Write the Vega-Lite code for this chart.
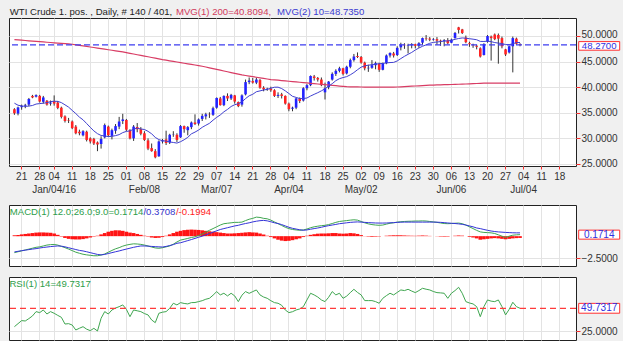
{
"$schema": "https://vega.github.io/schema/vega-lite/v6.json",
"background": "#f0f0f0",
"padding": {"left": 7, "top": 5, "right": 0, "bottom": 0},
"spacing": 9,
"config": {
  "font": "Liberation Sans",
  "view": {"stroke": "#222222", "strokeWidth": 1, "fill": "#ffffff"},
  "axis": {"labelFont": "Liberation Sans", "labelFontSize": 10, "labelColor": "#333333", "domain": false, "gridColor": "#e3e3e3", "gridWidth": 1, "tickColor": "#ff2a2a", "title": null, "labelOverlap": false},
  "title": {"font": "Liberation Sans"}
},
"datasets": {
"tags": [
{"panel": "price", "v": 48.27, "label": "48.2700"},
{"panel": "macd", "v": 0.1714, "label": "0.1714"},
{"panel": "rsi", "v": 49.7317, "label": "49.7317"}
],
"bars": [
{"d":"2015-12-17","o":35.70,"h":35.90,"l":34.60,"c":34.90,"m10":36.88,"m200":49.30,"macd":-1.85,"sig":-1.77,"hist":0.10,"rsi":29.7},
{"d":"2015-12-18","o":34.85,"h":36.20,"l":34.50,"c":36.05,"m10":36.48,"m200":49.24,"macd":-1.75,"sig":-1.70,"hist":0.12,"rsi":33.0},
{"d":"2015-12-21","o":36.10,"h":36.60,"l":35.60,"c":36.30,"m10":36.35,"m200":49.19,"macd":-1.65,"sig":-1.63,"hist":0.20,"rsi":36.3},
{"d":"2015-12-22","o":36.40,"h":36.75,"l":35.90,"c":36.55,"m10":36.25,"m200":49.13,"macd":-1.55,"sig":-1.57,"hist":0.25,"rsi":35.9},
{"d":"2015-12-23","o":36.60,"h":37.90,"l":36.30,"c":37.70,"m10":36.31,"m200":49.07,"macd":-1.45,"sig":-1.51,"hist":0.30,"rsi":38.5},
{"d":"2015-12-24","o":38.30,"h":38.50,"l":37.85,"c":38.00,"m10":36.43,"m200":49.02,"macd":-1.35,"sig":-1.45,"hist":0.35,"rsi":41.4},
{"d":"2015-12-25","o":38.15,"h":38.60,"l":38.00,"c":38.45,"m10":36.71,"m200":48.96,"macd":-1.25,"sig":-1.40,"hist":0.40,"rsi":46.1},
{"d":"2015-12-28","o":38.30,"h":38.50,"l":37.00,"c":37.20,"m10":36.80,"m200":48.91,"macd":-1.20,"sig":-1.33,"hist":0.42,"rsi":45.0},
{"d":"2015-12-29","o":37.15,"h":38.30,"l":36.80,"c":38.00,"m10":36.87,"m200":48.85,"macd":-1.10,"sig":-1.27,"hist":0.42,"rsi":47.9},
{"d":"2015-12-30","o":37.35,"h":37.50,"l":36.40,"c":36.60,"m10":36.98,"m200":48.79,"macd":-1.00,"sig":-1.22,"hist":0.40,"rsi":43.5},
{"d":"2015-12-31","o":36.80,"h":37.40,"l":36.40,"c":37.00,"m10":37.19,"m200":48.74,"macd":-0.95,"sig":-1.17,"hist":0.38,"rsi":46.1},
{"d":"2016-01-04","o":37.30,"h":38.40,"l":36.40,"c":36.80,"m10":37.26,"m200":48.68,"macd":-0.93,"sig":-1.13,"hist":0.30,"rsi":44.3},
{"d":"2016-01-05","o":37.00,"h":37.30,"l":35.70,"c":35.95,"m10":37.23,"m200":48.62,"macd":-1.00,"sig":-1.10,"hist":0.15,"rsi":42.0},
{"d":"2016-01-06","o":36.00,"h":36.20,"l":33.90,"c":34.20,"m10":36.99,"m200":48.57,"macd":-1.15,"sig":-1.12,"hist":-0.05,"rsi":39.9},
{"d":"2016-01-07","o":34.30,"h":34.50,"l":33.10,"c":33.40,"m10":36.56,"m200":48.51,"macd":-1.29,"sig":-1.20,"hist":-0.20,"rsi":32.6},
{"d":"2016-01-08","o":33.60,"h":34.00,"l":33.00,"c":33.50,"m10":36.11,"m200":48.46,"macd":-1.45,"sig":-1.30,"hist":-0.30,"rsi":33.0},
{"d":"2016-01-11","o":33.30,"h":33.50,"l":31.80,"c":32.00,"m10":35.47,"m200":48.40,"macd":-1.62,"sig":-1.40,"hist":-0.35,"rsi":31.5},
{"d":"2016-01-12","o":32.30,"h":32.60,"l":30.80,"c":31.00,"m10":34.85,"m200":48.29,"macd":-1.80,"sig":-1.50,"hist":-0.37,"rsi":26.1},
{"d":"2016-01-13","o":31.30,"h":31.70,"l":30.60,"c":31.00,"m10":34.15,"m200":48.19,"macd":-1.92,"sig":-1.60,"hist":-0.37,"rsi":28.0},
{"d":"2016-01-14","o":30.60,"h":31.60,"l":30.40,"c":31.40,"m10":33.63,"m200":48.08,"macd":-2.03,"sig":-1.66,"hist":-0.33,"rsi":29.7},
{"d":"2016-01-15","o":31.30,"h":31.50,"l":29.40,"c":29.70,"m10":32.90,"m200":47.97,"macd":-2.10,"sig":-1.75,"hist":-0.25,"rsi":27.0},
{"d":"2016-01-18","o":30.00,"h":30.20,"l":29.00,"c":29.40,"m10":32.16,"m200":47.86,"macd":-2.15,"sig":-1.85,"hist":-0.15,"rsi":25.4},
{"d":"2016-01-19","o":29.90,"h":30.10,"l":28.70,"c":29.00,"m10":31.46,"m200":47.76,"macd":-2.20,"sig":-1.95,"hist":-0.05,"rsi":27.9},
{"d":"2016-01-20","o":29.20,"h":29.40,"l":27.50,"c":28.80,"m10":30.92,"m200":47.65,"macd":-2.20,"sig":-2.05,"hist":0.05,"rsi":25.0},
{"d":"2016-01-21","o":28.90,"h":30.40,"l":28.00,"c":29.90,"m10":30.57,"m200":47.54,"macd":-2.12,"sig":-2.10,"hist":0.20,"rsi":38.8},
{"d":"2016-01-22","o":30.20,"h":32.90,"l":30.00,"c":32.60,"m10":30.48,"m200":47.44,"macd":-2.00,"sig":-2.05,"hist":0.35,"rsi":46.1},
{"d":"2016-01-25","o":32.30,"h":32.50,"l":30.30,"c":30.60,"m10":30.34,"m200":47.33,"macd":-1.80,"sig":-1.95,"hist":0.50,"rsi":43.5},
{"d":"2016-01-26","o":30.50,"h":31.90,"l":29.80,"c":31.60,"m10":30.40,"m200":47.22,"macd":-1.60,"sig":-1.85,"hist":0.60,"rsi":47.9},
{"d":"2016-01-27","o":31.50,"h":32.80,"l":30.90,"c":32.40,"m10":30.54,"m200":47.11,"macd":-1.42,"sig":-1.75,"hist":0.66,"rsi":50.0},
{"d":"2016-01-28","o":32.30,"h":34.20,"l":31.80,"c":33.30,"m10":30.73,"m200":47.01,"macd":-1.29,"sig":-1.66,"hist":0.65,"rsi":51.5},
{"d":"2016-01-29","o":33.40,"h":34.80,"l":32.80,"c":33.70,"m10":31.13,"m200":46.90,"macd":-1.12,"sig":-1.55,"hist":0.60,"rsi":53.4},
{"d":"2016-02-01","o":33.60,"h":33.80,"l":31.40,"c":31.70,"m10":31.36,"m200":46.76,"macd":-1.00,"sig":-1.45,"hist":0.50,"rsi":48.6},
{"d":"2016-02-02","o":31.60,"h":31.80,"l":29.80,"c":30.00,"m10":31.46,"m200":46.63,"macd":-0.92,"sig":-1.35,"hist":0.40,"rsi":40.6},
{"d":"2016-02-03","o":30.00,"h":32.60,"l":29.50,"c":32.30,"m10":31.81,"m200":46.49,"macd":-0.86,"sig":-1.25,"hist":0.35,"rsi":47.9},
{"d":"2016-02-04","o":32.20,"h":33.00,"l":31.20,"c":31.80,"m10":32.00,"m200":46.35,"macd":-0.88,"sig":-1.17,"hist":0.25,"rsi":47.0},
{"d":"2016-02-05","o":31.80,"h":32.20,"l":30.60,"c":30.90,"m10":31.83,"m200":46.22,"macd":-0.92,"sig":-1.10,"hist":0.15,"rsi":46.1},
{"d":"2016-02-08","o":31.00,"h":31.40,"l":29.50,"c":29.70,"m10":31.74,"m200":46.08,"macd":-1.00,"sig":-1.10,"hist":0.05,"rsi":44.0},
{"d":"2016-02-09","o":29.60,"h":30.00,"l":27.70,"c":28.00,"m10":31.38,"m200":45.95,"macd":-1.10,"sig":-1.12,"hist":-0.05,"rsi":42.5},
{"d":"2016-02-10","o":28.10,"h":29.00,"l":27.40,"c":27.50,"m10":30.89,"m200":45.81,"macd":-1.22,"sig":-1.15,"hist":-0.15,"rsi":37.0},
{"d":"2016-02-11","o":27.50,"h":27.90,"l":26.10,"c":26.30,"m10":30.19,"m200":45.67,"macd":-1.32,"sig":-1.18,"hist":-0.20,"rsi":34.1},
{"d":"2016-02-12","o":26.50,"h":29.60,"l":26.40,"c":29.40,"m10":29.76,"m200":45.54,"macd":-1.36,"sig":-1.20,"hist":-0.18,"rsi":44.3},
{"d":"2016-02-15","o":29.40,"h":29.90,"l":29.00,"c":29.60,"m10":29.55,"m200":45.40,"macd":-1.30,"sig":-1.22,"hist":-0.10,"rsi":45.5},
{"d":"2016-02-16","o":29.80,"h":31.50,"l":28.70,"c":29.10,"m10":29.46,"m200":45.28,"macd":-1.20,"sig":-1.15,"hist":0.05,"rsi":46.1},
{"d":"2016-02-17","o":29.20,"h":30.90,"l":28.90,"c":30.70,"m10":29.30,"m200":45.16,"macd":-1.10,"sig":-1.05,"hist":0.20,"rsi":49.7},
{"d":"2016-02-18","o":30.80,"h":31.40,"l":30.30,"c":30.85,"m10":29.20,"m200":45.05,"macd":-0.90,"sig":-0.95,"hist":0.35,"rsi":55.2},
{"d":"2016-02-19","o":30.70,"h":31.00,"l":29.30,"c":29.70,"m10":29.08,"m200":44.93,"macd":-0.65,"sig":-0.80,"hist":0.50,"rsi":53.4},
{"d":"2016-02-22","o":30.20,"h":32.60,"l":30.10,"c":32.40,"m10":29.35,"m200":44.81,"macd":-0.44,"sig":-0.74,"hist":0.60,"rsi":55.9},
{"d":"2016-02-23","o":32.40,"h":32.50,"l":31.10,"c":31.80,"m10":29.73,"m200":44.69,"macd":-0.35,"sig":-0.62,"hist":0.68,"rsi":55.0},
{"d":"2016-02-24","o":31.60,"h":32.40,"l":30.60,"c":32.20,"m10":30.20,"m200":44.57,"macd":-0.25,"sig":-0.50,"hist":0.72,"rsi":54.5},
{"d":"2016-02-25","o":32.20,"h":33.30,"l":31.80,"c":33.10,"m10":30.88,"m200":44.45,"macd":-0.15,"sig":-0.38,"hist":0.74,"rsi":55.9},
{"d":"2016-02-26","o":33.10,"h":34.70,"l":32.60,"c":32.80,"m10":31.22,"m200":44.34,"macd":-0.07,"sig":-0.25,"hist":0.72,"rsi":56.0},
{"d":"2016-02-29","o":32.90,"h":33.90,"l":32.50,"c":33.70,"m10":31.63,"m200":44.22,"macd":0.08,"sig":-0.12,"hist":0.70,"rsi":57.0},
{"d":"2016-03-01","o":33.80,"h":34.80,"l":33.40,"c":34.40,"m10":32.16,"m200":44.10,"macd":0.25,"sig":0.00,"hist":0.66,"rsi":58.0},
{"d":"2016-03-02","o":34.30,"h":35.00,"l":33.70,"c":34.70,"m10":32.56,"m200":43.95,"macd":0.45,"sig":0.15,"hist":0.60,"rsi":59.6},
{"d":"2016-03-03","o":34.65,"h":35.10,"l":34.00,"c":34.60,"m10":32.94,"m200":43.79,"macd":0.66,"sig":0.30,"hist":0.55,"rsi":60.6},
{"d":"2016-03-04","o":34.60,"h":36.20,"l":34.40,"c":35.90,"m10":33.56,"m200":43.64,"macd":0.85,"sig":0.45,"hist":0.50,"rsi":64.0},
{"d":"2016-03-07","o":36.00,"h":38.00,"l":35.80,"c":37.90,"m10":34.11,"m200":43.48,"macd":1.05,"sig":0.60,"hist":0.45,"rsi":67.9},
{"d":"2016-03-08","o":37.80,"h":38.10,"l":36.40,"c":36.50,"m10":34.58,"m200":43.33,"macd":1.25,"sig":0.75,"hist":0.40,"rsi":64.3},
{"d":"2016-03-09","o":36.50,"h":38.40,"l":36.30,"c":38.30,"m10":35.19,"m200":43.17,"macd":1.40,"sig":0.85,"hist":0.35,"rsi":66.1},
{"d":"2016-03-10","o":38.30,"h":38.80,"l":37.30,"c":37.80,"m10":35.66,"m200":43.02,"macd":1.45,"sig":0.95,"hist":0.30,"rsi":63.2},
{"d":"2016-03-11","o":37.80,"h":38.70,"l":37.50,"c":38.50,"m10":36.23,"m200":42.86,"macd":1.50,"sig":1.05,"hist":0.30,"rsi":66.1},
{"d":"2016-03-14","o":38.40,"h":38.50,"l":36.80,"c":37.20,"m10":36.58,"m200":42.71,"macd":1.55,"sig":1.15,"hist":0.32,"rsi":63.2},
{"d":"2016-03-15","o":37.10,"h":37.20,"l":36.10,"c":36.30,"m10":36.77,"m200":42.55,"macd":1.55,"sig":1.22,"hist":0.35,"rsi":57.0},
{"d":"2016-03-16","o":36.60,"h":38.60,"l":36.20,"c":38.40,"m10":37.14,"m200":42.40,"macd":1.58,"sig":1.33,"hist":0.38,"rsi":64.0},
{"d":"2016-03-17","o":38.60,"h":41.50,"l":38.40,"c":41.00,"m10":37.78,"m200":42.29,"macd":1.75,"sig":1.42,"hist":0.42,"rsi":67.9},
{"d":"2016-03-18","o":41.00,"h":41.90,"l":40.60,"c":41.30,"m10":38.32,"m200":42.18,"macd":1.90,"sig":1.50,"hist":0.45,"rsi":66.0},
{"d":"2016-03-21","o":41.20,"h":41.80,"l":40.70,"c":40.90,"m10":38.62,"m200":42.06,"macd":2.00,"sig":1.60,"hist":0.42,"rsi":67.9},
{"d":"2016-03-22","o":40.90,"h":41.90,"l":40.60,"c":41.50,"m10":39.12,"m200":41.95,"macd":2.14,"sig":1.68,"hist":0.40,"rsi":69.7},
{"d":"2016-03-23","o":41.40,"h":41.60,"l":39.70,"c":39.90,"m10":39.28,"m200":41.84,"macd":2.10,"sig":1.74,"hist":0.30,"rsi":64.3},
{"d":"2016-03-24","o":39.90,"h":40.20,"l":39.20,"c":39.60,"m10":39.46,"m200":41.72,"macd":2.00,"sig":1.77,"hist":0.18,"rsi":62.0},
{"d":"2016-03-25","o":39.60,"h":39.90,"l":39.30,"c":39.70,"m10":39.58,"m200":41.61,"macd":1.95,"sig":1.72,"hist":0.05,"rsi":60.6},
{"d":"2016-03-28","o":39.70,"h":40.10,"l":39.10,"c":39.40,"m10":39.80,"m200":41.50,"macd":1.80,"sig":1.62,"hist":-0.10,"rsi":58.0},
{"d":"2016-03-29","o":39.40,"h":39.60,"l":38.10,"c":38.30,"m10":40.00,"m200":41.43,"macd":1.60,"sig":1.50,"hist":-0.25,"rsi":55.9},
{"d":"2016-03-30","o":38.30,"h":39.00,"l":37.90,"c":38.50,"m10":40.01,"m200":41.37,"macd":1.40,"sig":1.42,"hist":-0.40,"rsi":55.2},
{"d":"2016-03-31","o":38.60,"h":38.90,"l":37.80,"c":38.30,"m10":39.74,"m200":41.30,"macd":1.20,"sig":1.30,"hist":-0.50,"rsi":53.0},
{"d":"2016-04-01","o":38.30,"h":38.40,"l":36.60,"c":36.80,"m10":39.29,"m200":41.23,"macd":1.00,"sig":1.15,"hist":-0.55,"rsi":47.9},
{"d":"2016-04-04","o":36.80,"h":37.00,"l":35.30,"c":35.70,"m10":38.77,"m200":41.17,"macd":0.85,"sig":1.00,"hist":-0.52,"rsi":45.0},
{"d":"2016-04-05","o":35.80,"h":36.20,"l":35.30,"c":36.00,"m10":38.22,"m200":41.10,"macd":0.75,"sig":0.88,"hist":-0.45,"rsi":46.0},
{"d":"2016-04-06","o":36.00,"h":37.90,"l":35.70,"c":37.80,"m10":38.01,"m200":41.03,"macd":0.70,"sig":0.80,"hist":-0.35,"rsi":47.9},
{"d":"2016-04-07","o":37.80,"h":38.00,"l":36.90,"c":37.30,"m10":37.78,"m200":40.97,"macd":0.66,"sig":0.72,"hist":-0.25,"rsi":49.0},
{"d":"2016-04-08","o":37.40,"h":40.00,"l":37.20,"c":39.80,"m10":37.79,"m200":40.90,"macd":0.70,"sig":0.66,"hist":-0.10,"rsi":51.5},
{"d":"2016-04-11","o":39.80,"h":40.60,"l":39.40,"c":40.40,"m10":37.89,"m200":40.83,"macd":0.80,"sig":0.70,"hist":0.05,"rsi":58.8},
{"d":"2016-04-12","o":40.40,"h":42.30,"l":40.20,"c":42.20,"m10":38.28,"m200":40.77,"macd":0.95,"sig":0.78,"hist":0.15,"rsi":66.1},
{"d":"2016-04-13","o":42.10,"h":42.40,"l":41.30,"c":41.80,"m10":38.61,"m200":40.70,"macd":1.05,"sig":0.85,"hist":0.22,"rsi":64.3},
{"d":"2016-04-14","o":41.80,"h":42.00,"l":41.10,"c":41.50,"m10":38.93,"m200":40.63,"macd":1.12,"sig":0.92,"hist":0.28,"rsi":62.0},
{"d":"2016-04-15","o":41.50,"h":41.90,"l":40.20,"c":40.40,"m10":39.29,"m200":40.57,"macd":1.18,"sig":1.00,"hist":0.30,"rsi":58.8},
{"d":"2016-04-18","o":39.00,"h":40.90,"l":37.60,"c":39.80,"m10":39.70,"m200":40.50,"macd":1.22,"sig":1.10,"hist":0.30,"rsi":57.0},
{"d":"2016-04-19","o":40.00,"h":41.20,"l":39.60,"c":41.10,"m10":40.21,"m200":40.43,"macd":1.30,"sig":1.18,"hist":0.32,"rsi":61.7},
{"d":"2016-04-20","o":41.50,"h":42.90,"l":41.30,"c":42.60,"m10":40.69,"m200":40.37,"macd":1.42,"sig":1.25,"hist":0.35,"rsi":67.9},
{"d":"2016-04-21","o":42.60,"h":43.50,"l":42.20,"c":43.20,"m10":41.28,"m200":40.30,"macd":1.55,"sig":1.32,"hist":0.35,"rsi":64.3},
{"d":"2016-04-22","o":43.20,"h":44.00,"l":42.90,"c":43.70,"m10":41.67,"m200":40.23,"macd":1.65,"sig":1.40,"hist":0.30,"rsi":66.1},
{"d":"2016-04-25","o":43.70,"h":43.80,"l":42.30,"c":42.60,"m10":41.89,"m200":40.17,"macd":1.70,"sig":1.45,"hist":0.28,"rsi":60.6},
{"d":"2016-04-26","o":42.70,"h":44.20,"l":42.50,"c":44.00,"m10":42.07,"m200":40.10,"macd":1.75,"sig":1.50,"hist":0.30,"rsi":63.0},
{"d":"2016-04-27","o":44.00,"h":45.60,"l":43.70,"c":45.30,"m10":42.42,"m200":40.08,"macd":1.80,"sig":1.55,"hist":0.35,"rsi":66.8},
{"d":"2016-04-28","o":45.30,"h":46.50,"l":45.00,"c":46.00,"m10":42.87,"m200":40.06,"macd":1.84,"sig":1.58,"hist":0.32,"rsi":70.4},
{"d":"2016-04-29","o":46.10,"h":46.80,"l":45.70,"c":45.90,"m10":43.42,"m200":40.05,"macd":1.80,"sig":1.60,"hist":0.25,"rsi":67.0},
{"d":"2016-05-02","o":45.90,"h":46.10,"l":44.60,"c":44.80,"m10":43.92,"m200":40.04,"macd":1.65,"sig":1.58,"hist":0.12,"rsi":64.3},
{"d":"2016-05-03","o":44.80,"h":45.00,"l":43.30,"c":43.70,"m10":44.18,"m200":40.03,"macd":1.50,"sig":1.55,"hist":0.02,"rsi":58.1},
{"d":"2016-05-04","o":43.70,"h":44.40,"l":43.00,"c":43.80,"m10":44.30,"m200":40.02,"macd":1.38,"sig":1.52,"hist":-0.05,"rsi":58.1},
{"d":"2016-05-05","o":43.80,"h":45.30,"l":43.60,"c":44.30,"m10":44.41,"m200":40.01,"macd":1.30,"sig":1.50,"hist":-0.08,"rsi":58.1},
{"d":"2016-05-06","o":44.30,"h":45.00,"l":43.50,"c":44.70,"m10":44.51,"m200":40.00,"macd":1.25,"sig":1.48,"hist":-0.06,"rsi":57.0},
{"d":"2016-05-09","o":44.60,"h":44.80,"l":43.00,"c":43.40,"m10":44.59,"m200":40.00,"macd":1.22,"sig":1.47,"hist":-0.04,"rsi":55.2},
{"d":"2016-05-10","o":43.40,"h":44.80,"l":43.30,"c":44.70,"m10":44.66,"m200":40.00,"macd":1.25,"sig":1.47,"hist":0.00,"rsi":60.6},
{"d":"2016-05-11","o":44.70,"h":46.40,"l":44.50,"c":46.20,"m10":44.75,"m200":40.00,"macd":1.35,"sig":1.48,"hist":0.05,"rsi":63.5},
{"d":"2016-05-12","o":46.20,"h":46.80,"l":45.80,"c":46.70,"m10":44.82,"m200":40.00,"macd":1.45,"sig":1.50,"hist":0.08,"rsi":66.1},
{"d":"2016-05-13","o":46.60,"h":46.90,"l":45.80,"c":46.20,"m10":44.85,"m200":40.00,"macd":1.50,"sig":1.52,"hist":0.10,"rsi":64.3},
{"d":"2016-05-16","o":46.30,"h":48.00,"l":46.10,"c":47.70,"m10":45.14,"m200":40.04,"macd":1.58,"sig":1.55,"hist":0.10,"rsi":67.0},
{"d":"2016-05-17","o":47.80,"h":48.70,"l":47.20,"c":48.30,"m10":45.60,"m200":40.08,"macd":1.62,"sig":1.57,"hist":0.10,"rsi":69.7},
{"d":"2016-05-18","o":48.30,"h":48.60,"l":47.50,"c":48.20,"m10":46.04,"m200":40.12,"macd":1.65,"sig":1.58,"hist":0.08,"rsi":69.0},
{"d":"2016-05-19","o":48.10,"h":48.50,"l":46.60,"c":48.20,"m10":46.43,"m200":40.16,"macd":1.67,"sig":1.58,"hist":0.06,"rsi":70.4},
{"d":"2016-05-20","o":48.20,"h":48.60,"l":47.60,"c":48.40,"m10":46.80,"m200":40.20,"macd":1.68,"sig":1.58,"hist":0.05,"rsi":68.5},
{"d":"2016-05-23","o":48.40,"h":48.50,"l":47.60,"c":48.10,"m10":47.27,"m200":40.24,"macd":1.70,"sig":1.58,"hist":0.04,"rsi":66.8},
{"d":"2016-05-24","o":48.10,"h":48.80,"l":47.70,"c":48.60,"m10":47.66,"m200":40.28,"macd":1.70,"sig":1.58,"hist":0.06,"rsi":69.0},
{"d":"2016-05-25","o":48.70,"h":49.70,"l":48.30,"c":49.60,"m10":48.00,"m200":40.32,"macd":1.72,"sig":1.58,"hist":0.08,"rsi":71.5},
{"d":"2016-05-26","o":49.60,"h":50.20,"l":49.10,"c":49.50,"m10":48.28,"m200":40.36,"macd":1.70,"sig":1.58,"hist":0.06,"rsi":70.5},
{"d":"2016-05-27","o":49.50,"h":49.80,"l":49.00,"c":49.30,"m10":48.59,"m200":40.40,"macd":1.65,"sig":1.58,"hist":0.03,"rsi":69.7},
{"d":"2016-05-30","o":49.30,"h":49.60,"l":49.10,"c":49.40,"m10":48.76,"m200":40.42,"macd":1.60,"sig":1.58,"hist":0.00,"rsi":68.0},
{"d":"2016-05-31","o":49.40,"h":49.80,"l":48.30,"c":49.10,"m10":48.84,"m200":40.44,"macd":1.55,"sig":1.57,"hist":-0.02,"rsi":66.8},
{"d":"2016-06-01","o":49.10,"h":49.30,"l":48.10,"c":49.00,"m10":48.92,"m200":40.47,"macd":1.48,"sig":1.55,"hist":-0.05,"rsi":66.5},
{"d":"2016-06-02","o":49.00,"h":49.40,"l":48.00,"c":49.20,"m10":49.02,"m200":40.49,"macd":1.42,"sig":1.52,"hist":-0.06,"rsi":66.1},
{"d":"2016-06-03","o":49.20,"h":49.60,"l":48.40,"c":48.60,"m10":49.04,"m200":40.51,"macd":1.40,"sig":1.48,"hist":-0.05,"rsi":60.6},
{"d":"2016-06-06","o":48.70,"h":49.50,"l":48.60,"c":49.30,"m10":49.16,"m200":40.53,"macd":1.42,"sig":1.45,"hist":0.00,"rsi":66.1},
{"d":"2016-06-07","o":49.60,"h":50.80,"l":49.50,"c":50.60,"m10":49.36,"m200":40.56,"macd":1.45,"sig":1.42,"hist":0.05,"rsi":69.0},
{"d":"2016-06-08","o":51.70,"h":51.80,"l":50.50,"c":51.20,"m10":49.52,"m200":40.58,"macd":1.47,"sig":1.38,"hist":0.08,"rsi":72.6},
{"d":"2016-06-09","o":51.30,"h":51.40,"l":50.40,"c":50.60,"m10":49.63,"m200":40.60,"macd":1.40,"sig":1.33,"hist":0.06,"rsi":66.1},
{"d":"2016-06-10","o":49.70,"h":50.10,"l":48.60,"c":48.80,"m10":49.58,"m200":40.63,"macd":1.25,"sig":1.25,"hist":0.00,"rsi":57.0},
{"d":"2016-06-13","o":48.60,"h":48.90,"l":47.90,"c":48.40,"m10":49.48,"m200":40.67,"macd":1.05,"sig":1.15,"hist":-0.08,"rsi":55.5},
{"d":"2016-06-14","o":48.30,"h":48.50,"l":47.70,"c":48.20,"m10":49.39,"m200":40.70,"macd":0.85,"sig":1.05,"hist":-0.15,"rsi":54.5},
{"d":"2016-06-15","o":48.10,"h":48.30,"l":47.40,"c":47.90,"m10":49.28,"m200":40.73,"macd":0.65,"sig":0.92,"hist":-0.25,"rsi":51.5},
{"d":"2016-06-16","o":47.60,"h":47.80,"l":45.80,"c":46.00,"m10":48.96,"m200":40.77,"macd":0.48,"sig":0.85,"hist":-0.40,"rsi":40.6},
{"d":"2016-06-17","o":46.30,"h":48.60,"l":46.20,"c":48.40,"m10":48.94,"m200":40.80,"macd":0.42,"sig":0.75,"hist":-0.35,"rsi":51.5},
{"d":"2016-06-20","o":48.90,"h":50.20,"l":48.70,"c":50.00,"m10":49.01,"m200":40.80,"macd":0.40,"sig":0.66,"hist":-0.30,"rsi":58.8},
{"d":"2016-06-21","o":49.90,"h":50.10,"l":45.20,"c":49.60,"m10":48.91,"m200":40.80,"macd":0.37,"sig":0.58,"hist":-0.25,"rsi":57.5},
{"d":"2016-06-22","o":50.30,"h":50.50,"l":49.20,"c":49.40,"m10":48.73,"m200":40.80,"macd":0.30,"sig":0.52,"hist":-0.22,"rsi":57.0},
{"d":"2016-06-23","o":50.20,"h":50.50,"l":44.60,"c":49.50,"m10":48.62,"m200":40.80,"macd":0.15,"sig":0.48,"hist":-0.25,"rsi":58.8},
{"d":"2016-06-24","o":49.60,"h":49.90,"l":47.60,"c":48.00,"m10":48.54,"m200":40.80,"macd":0.00,"sig":0.45,"hist":-0.30,"rsi":51.5},
{"d":"2016-06-27","o":47.40,"h":47.50,"l":46.10,"c":46.40,"m10":48.34,"m200":40.81,"macd":-0.15,"sig":0.42,"hist":-0.35,"rsi":42.5},
{"d":"2016-06-28","o":46.80,"h":48.10,"l":46.60,"c":48.00,"m10":48.32,"m200":40.81,"macd":0.00,"sig":0.40,"hist":-0.30,"rsi":48.6},
{"d":"2016-06-29","o":48.00,"h":49.90,"l":42.90,"c":49.60,"m10":48.49,"m200":40.81,"macd":0.11,"sig":0.38,"hist":-0.25,"rsi":56.3},
{"d":"2016-06-30","o":49.50,"h":49.70,"l":48.30,"c":48.50,"m10":48.74,"m200":40.81,"macd":0.15,"sig":0.37,"hist":-0.22,"rsi":51.5},
{"d":"2016-07-01","o":48.40,"h":48.60,"l":48.00,"c":48.27,"m10":48.735,"m200":40.8094,"macd":0.1714,"sig":0.3708,"hist":-0.1994,"rsi":49.7317}
]
},
"vconcat": [
{
  "width": 567, "height": 148,
  "data": {"name": "bars"},
  "layer": [
    {"mark": {"type": "rule", "color": "#333333", "strokeWidth": 1},
     "encoding": {
       "x": {"field": "d", "type": "ordinal", "axis": {"orient": "bottom", "values": ["2015-12-21","2015-12-28","2016-01-04","2016-01-11","2016-01-18","2016-01-25","2016-02-01","2016-02-08","2016-02-15","2016-02-22","2016-02-29","2016-03-07","2016-03-14","2016-03-21","2016-03-28","2016-04-04","2016-04-11","2016-04-18","2016-04-25","2016-05-02","2016-05-09","2016-05-16","2016-05-23","2016-05-30","2016-06-06","2016-06-13","2016-06-20","2016-06-27","2016-07-04","2016-07-11","2016-07-18"], "labelExpr": "indexof(['2016-01-04','2016-02-08','2016-03-07','2016-04-04','2016-05-02','2016-06-06','2016-07-04'], datum.value) >= 0 ? [slice(datum.value, 8), ['Jan/04/16','Feb/08','Mar/07','Apr/04','May/02','Jun/06','Jul/04'][indexof(['2016-01-04','2016-02-08','2016-03-07','2016-04-04','2016-05-02','2016-06-06','2016-07-04'], datum.value)]] : slice(datum.value, 8)", "labelAngle": 0, "labelLineHeight": 13.5, "grid": true, "ticks": true, "tickSize": 3, "labelPadding": 2, "labelOverlap": false}},
       "y": {"field": "l", "type": "quantitative", "scale": {"domain": [24.6, 53.53], "nice": false, "zero": false}, "axis": {"orient": "right", "values": [25, 30, 35, 40, 45, 50], "tickCount": 20, "format": ".4f", "grid": true, "tickSize": 4, "labelPadding": 1, "title": null, "labelOverlap": false, "labelBound": false, "labelOffset": {"condition": {"test": "datum.value == 50", "value": -2}, "value": 0}}},
       "y2": {"field": "h"}
     }},
    {"mark": {"type": "bar", "width": {"band": 0.72}},
     "encoding": {
       "x": {"field": "d", "type": "ordinal", "scale": {"type": "band", "paddingInner": 0, "paddingOuter": 0, "domain": ["2015-12-16","2015-12-17","2015-12-18","2015-12-21","2015-12-22","2015-12-23","2015-12-24","2015-12-25","2015-12-28","2015-12-29","2015-12-30","2015-12-31","2016-01-04","2016-01-05","2016-01-06","2016-01-07","2016-01-08","2016-01-11","2016-01-12","2016-01-13","2016-01-14","2016-01-15","2016-01-18","2016-01-19","2016-01-20","2016-01-21","2016-01-22","2016-01-25","2016-01-26","2016-01-27","2016-01-28","2016-01-29","2016-02-01","2016-02-02","2016-02-03","2016-02-04","2016-02-05","2016-02-08","2016-02-09","2016-02-10","2016-02-11","2016-02-12","2016-02-15","2016-02-16","2016-02-17","2016-02-18","2016-02-19","2016-02-22","2016-02-23","2016-02-24","2016-02-25","2016-02-26","2016-02-29","2016-03-01","2016-03-02","2016-03-03","2016-03-04","2016-03-07","2016-03-08","2016-03-09","2016-03-10","2016-03-11","2016-03-14","2016-03-15","2016-03-16","2016-03-17","2016-03-18","2016-03-21","2016-03-22","2016-03-23","2016-03-24","2016-03-25","2016-03-28","2016-03-29","2016-03-30","2016-03-31","2016-04-01","2016-04-04","2016-04-05","2016-04-06","2016-04-07","2016-04-08","2016-04-11","2016-04-12","2016-04-13","2016-04-14","2016-04-15","2016-04-18","2016-04-19","2016-04-20","2016-04-21","2016-04-22","2016-04-25","2016-04-26","2016-04-27","2016-04-28","2016-04-29","2016-05-02","2016-05-03","2016-05-04","2016-05-05","2016-05-06","2016-05-09","2016-05-10","2016-05-11","2016-05-12","2016-05-13","2016-05-16","2016-05-17","2016-05-18","2016-05-19","2016-05-20","2016-05-23","2016-05-24","2016-05-25","2016-05-26","2016-05-27","2016-05-30","2016-05-31","2016-06-01","2016-06-02","2016-06-03","2016-06-06","2016-06-07","2016-06-08","2016-06-09","2016-06-10","2016-06-13","2016-06-14","2016-06-15","2016-06-16","2016-06-17","2016-06-20","2016-06-21","2016-06-22","2016-06-23","2016-06-24","2016-06-27","2016-06-28","2016-06-29","2016-06-30","2016-07-01","2016-07-04","2016-07-05","2016-07-06","2016-07-07","2016-07-08","2016-07-11","2016-07-12","2016-07-13","2016-07-14","2016-07-15","2016-07-18","2016-07-19","2016-07-20","2016-07-21","2016-07-22"]}, "axis": null},
       "y": {"field": "o", "type": "quantitative"},
       "y2": {"field": "c"},
       "color": {"condition": {"test": "datum.c >= datum.o", "value": "#2222ff"}, "value": "#ff2222"}
     }},
    {"mark": {"type": "line", "color": "#d83c64", "strokeWidth": 1.2},
     "encoding": {
       "x": {"field": "d", "type": "ordinal", "axis": null},
       "y": {"field": "m200", "type": "quantitative"}
     }},
    {"mark": {"type": "line", "color": "#4040d0", "strokeWidth": 1},
     "encoding": {
       "x": {"field": "d", "type": "ordinal", "axis": {"orient": "top", "values": ["2015-12-16", "2016-02-19", "2016-03-30"], "labelExpr": "datum.value == '2015-12-16' ? 'WTI Crude 1. pos. , Daily, # 140 / 401,' : datum.value == '2016-02-19' ? 'MVG(1) 200=40.8094,' : 'MVG(2) 10=48.7350'", "labelAlign": "left", "labelAngle": 0, "labelFontSize": 9.6, "labelOffset": -1, "labelPadding": 2, "ticks": false, "grid": false, "labelOverlap": false, "labelColor": {"condition": [{"test": "datum.value == '2016-02-19'", "value": "#d03a5c"}, {"test": "datum.value == '2016-03-30'", "value": "#3a3ad0"}], "value": "#1e1e1e"}}},
       "y": {"field": "m10", "type": "quantitative"}
     }},
    {"data": {"name": "tags"}, "transform": [{"filter": "datum.panel == 'price'"}],
     "mark": {"type": "rule", "color": "#3c3cf0", "strokeDash": [6, 3], "strokeWidth": 1.2},
     "encoding": {"y": {"field": "v", "type": "quantitative"}}},
    {"data": {"name": "tags"}, "transform": [{"filter": "datum.panel == 'price'"}],
     "mark": {"type": "point", "shape": "M-1,-0.21H1V0.21H-1Z", "size": 1681, "filled": true, "fill": "#ffffff", "stroke": "#ff3030", "strokeWidth": 1, "opacity": 1, "xOffset": 25, "yOffset": 1},
     "encoding": {"x": {"datum": "2016-07-22", "type": "ordinal", "axis": null}, "y": {"field": "v", "type": "quantitative"}}},
    {"data": {"name": "tags"}, "transform": [{"filter": "datum.panel == 'price'"}],
     "mark": {"type": "text", "color": "#3030e0", "fontSize": 9.6, "font": "Liberation Sans", "align": "center", "baseline": "middle", "xOffset": 25, "yOffset": 1},
     "encoding": {"x": {"datum": "2016-07-22", "type": "ordinal", "axis": null}, "y": {"field": "v", "type": "quantitative"}, "text": {"field": "label"}}}
  ],
  "resolve": {"axis": {"x": "independent"}}
},
{
  "width": 567, "height": 61,
  "data": {"name": "bars"},
  "layer": [
    {"mark": {"type": "bar", "color": "#ff1414", "width": {"band": 1}},
     "encoding": {
       "x": {"field": "d", "type": "ordinal", "scale": {"type": "band", "paddingInner": 0, "paddingOuter": 0, "domain": ["2015-12-16","2015-12-17","2015-12-18","2015-12-21","2015-12-22","2015-12-23","2015-12-24","2015-12-25","2015-12-28","2015-12-29","2015-12-30","2015-12-31","2016-01-04","2016-01-05","2016-01-06","2016-01-07","2016-01-08","2016-01-11","2016-01-12","2016-01-13","2016-01-14","2016-01-15","2016-01-18","2016-01-19","2016-01-20","2016-01-21","2016-01-22","2016-01-25","2016-01-26","2016-01-27","2016-01-28","2016-01-29","2016-02-01","2016-02-02","2016-02-03","2016-02-04","2016-02-05","2016-02-08","2016-02-09","2016-02-10","2016-02-11","2016-02-12","2016-02-15","2016-02-16","2016-02-17","2016-02-18","2016-02-19","2016-02-22","2016-02-23","2016-02-24","2016-02-25","2016-02-26","2016-02-29","2016-03-01","2016-03-02","2016-03-03","2016-03-04","2016-03-07","2016-03-08","2016-03-09","2016-03-10","2016-03-11","2016-03-14","2016-03-15","2016-03-16","2016-03-17","2016-03-18","2016-03-21","2016-03-22","2016-03-23","2016-03-24","2016-03-25","2016-03-28","2016-03-29","2016-03-30","2016-03-31","2016-04-01","2016-04-04","2016-04-05","2016-04-06","2016-04-07","2016-04-08","2016-04-11","2016-04-12","2016-04-13","2016-04-14","2016-04-15","2016-04-18","2016-04-19","2016-04-20","2016-04-21","2016-04-22","2016-04-25","2016-04-26","2016-04-27","2016-04-28","2016-04-29","2016-05-02","2016-05-03","2016-05-04","2016-05-05","2016-05-06","2016-05-09","2016-05-10","2016-05-11","2016-05-12","2016-05-13","2016-05-16","2016-05-17","2016-05-18","2016-05-19","2016-05-20","2016-05-23","2016-05-24","2016-05-25","2016-05-26","2016-05-27","2016-05-30","2016-05-31","2016-06-01","2016-06-02","2016-06-03","2016-06-06","2016-06-07","2016-06-08","2016-06-09","2016-06-10","2016-06-13","2016-06-14","2016-06-15","2016-06-16","2016-06-17","2016-06-20","2016-06-21","2016-06-22","2016-06-23","2016-06-24","2016-06-27","2016-06-28","2016-06-29","2016-06-30","2016-07-01","2016-07-04","2016-07-05","2016-07-06","2016-07-07","2016-07-08","2016-07-11","2016-07-12","2016-07-13","2016-07-14","2016-07-15","2016-07-18","2016-07-19","2016-07-20","2016-07-21","2016-07-22"]}, "axis": {"orient": "bottom", "values": ["2015-12-21","2015-12-28","2016-01-04","2016-01-11","2016-01-18","2016-01-25","2016-02-01","2016-02-08","2016-02-15","2016-02-22","2016-02-29","2016-03-07","2016-03-14","2016-03-21","2016-03-28","2016-04-04","2016-04-11","2016-04-18","2016-04-25","2016-05-02","2016-05-09","2016-05-16","2016-05-23","2016-05-30","2016-06-06","2016-06-13","2016-06-20","2016-06-27","2016-07-04","2016-07-11","2016-07-18"], "labels": false, "ticks": false, "grid": true}},
       "y": {"field": "hist", "type": "quantitative", "scale": {"domain": [-3.35, 3.5], "nice": false, "zero": false}, "axis": {"orient": "right", "values": [-2.5], "tickCount": 20, "format": ".4f", "grid": true, "tickSize": 4, "labelPadding": 1, "title": null, "labelOverlap": false, "labelBound": false}},
       "y2": {"datum": 0}
     }},
    {"mark": {"type": "line", "color": "#3fa650", "strokeWidth": 1},
     "encoding": {
       "x": {"field": "d", "type": "ordinal", "axis": null},
       "y": {"field": "macd", "type": "quantitative"}
     }},
    {"mark": {"type": "line", "color": "#3434d8", "strokeWidth": 1},
     "encoding": {
       "x": {"field": "d", "type": "ordinal", "axis": {"orient": "top", "offset": -11, "values": ["2015-12-16", "2016-02-08", "2016-02-19"], "labelExpr": "datum.value == '2015-12-16' ? 'MACD(1) 12.0;26.0;9.0=0.1714' : datum.value == '2016-02-08' ? '/0.3708' : '/-0.1994'", "labelAlign": "left", "labelAngle": 0, "labelFontSize": 9.6, "labelOffset": -1, "labelPadding": 0, "ticks": false, "grid": false, "labelOverlap": false, "labelColor": {"condition": [{"test": "datum.value == '2016-02-08'", "value": "#3333cc"}, {"test": "datum.value == '2016-02-19'", "value": "#ff2222"}], "value": "#2e9e4a"}}},
       "y": {"field": "sig", "type": "quantitative"}
     }},
    {"data": {"name": "tags"}, "transform": [{"filter": "datum.panel == 'macd'"}],
     "mark": {"type": "point", "shape": "M-1,-0.22H1V0.22H-1Z", "size": 1681, "filled": true, "fill": "#ffffff", "stroke": "#ff3030", "strokeWidth": 1, "opacity": 1, "xOffset": 25},
     "encoding": {"x": {"datum": "2016-07-22", "type": "ordinal", "axis": null}, "y": {"field": "v", "type": "quantitative"}}},
    {"data": {"name": "tags"}, "transform": [{"filter": "datum.panel == 'macd'"}],
     "mark": {"type": "text", "color": "#3030e0", "fontSize": 10, "font": "Liberation Sans", "align": "center", "baseline": "middle", "xOffset": 25},
     "encoding": {"x": {"datum": "2016-07-22", "type": "ordinal", "axis": null}, "y": {"field": "v", "type": "quantitative"}, "text": {"field": "label"}}}
  ],
  "resolve": {"axis": {"x": "independent"}}
},
{
  "width": 567, "height": 63,
  "data": {"name": "bars"},
  "title": {"text": "RSI(1) 14=49.7317", "anchor": "start", "offset": -12, "dx": 1, "fontSize": 9.6, "fontWeight": "normal", "color": "#2e9e4a", "font": "Liberation Sans"},
  "layer": [
    {"mark": {"type": "line", "color": "#3fa650", "strokeWidth": 1},
     "encoding": {
       "x": {"field": "d", "type": "ordinal", "scale": {"type": "band", "paddingInner": 0, "paddingOuter": 0, "domain": ["2015-12-16","2015-12-17","2015-12-18","2015-12-21","2015-12-22","2015-12-23","2015-12-24","2015-12-25","2015-12-28","2015-12-29","2015-12-30","2015-12-31","2016-01-04","2016-01-05","2016-01-06","2016-01-07","2016-01-08","2016-01-11","2016-01-12","2016-01-13","2016-01-14","2016-01-15","2016-01-18","2016-01-19","2016-01-20","2016-01-21","2016-01-22","2016-01-25","2016-01-26","2016-01-27","2016-01-28","2016-01-29","2016-02-01","2016-02-02","2016-02-03","2016-02-04","2016-02-05","2016-02-08","2016-02-09","2016-02-10","2016-02-11","2016-02-12","2016-02-15","2016-02-16","2016-02-17","2016-02-18","2016-02-19","2016-02-22","2016-02-23","2016-02-24","2016-02-25","2016-02-26","2016-02-29","2016-03-01","2016-03-02","2016-03-03","2016-03-04","2016-03-07","2016-03-08","2016-03-09","2016-03-10","2016-03-11","2016-03-14","2016-03-15","2016-03-16","2016-03-17","2016-03-18","2016-03-21","2016-03-22","2016-03-23","2016-03-24","2016-03-25","2016-03-28","2016-03-29","2016-03-30","2016-03-31","2016-04-01","2016-04-04","2016-04-05","2016-04-06","2016-04-07","2016-04-08","2016-04-11","2016-04-12","2016-04-13","2016-04-14","2016-04-15","2016-04-18","2016-04-19","2016-04-20","2016-04-21","2016-04-22","2016-04-25","2016-04-26","2016-04-27","2016-04-28","2016-04-29","2016-05-02","2016-05-03","2016-05-04","2016-05-05","2016-05-06","2016-05-09","2016-05-10","2016-05-11","2016-05-12","2016-05-13","2016-05-16","2016-05-17","2016-05-18","2016-05-19","2016-05-20","2016-05-23","2016-05-24","2016-05-25","2016-05-26","2016-05-27","2016-05-30","2016-05-31","2016-06-01","2016-06-02","2016-06-03","2016-06-06","2016-06-07","2016-06-08","2016-06-09","2016-06-10","2016-06-13","2016-06-14","2016-06-15","2016-06-16","2016-06-17","2016-06-20","2016-06-21","2016-06-22","2016-06-23","2016-06-24","2016-06-27","2016-06-28","2016-06-29","2016-06-30","2016-07-01","2016-07-04","2016-07-05","2016-07-06","2016-07-07","2016-07-08","2016-07-11","2016-07-12","2016-07-13","2016-07-14","2016-07-15","2016-07-18","2016-07-19","2016-07-20","2016-07-21","2016-07-22"]}, "axis": {"orient": "bottom", "values": ["2015-12-21","2015-12-28","2016-01-04","2016-01-11","2016-01-18","2016-01-25","2016-02-01","2016-02-08","2016-02-15","2016-02-22","2016-02-29","2016-03-07","2016-03-14","2016-03-21","2016-03-28","2016-04-04","2016-04-11","2016-04-18","2016-04-25","2016-05-02","2016-05-09","2016-05-16","2016-05-23","2016-05-30","2016-06-06","2016-06-13","2016-06-20","2016-06-27","2016-07-04","2016-07-11","2016-07-18"], "labels": false, "ticks": false, "grid": true}},
       "y": {"field": "rsi", "type": "quantitative", "scale": {"domain": [15.2, 83.8], "nice": false, "zero": false}, "axis": {"orient": "right", "values": [25], "tickCount": 20, "format": ".4f", "grid": true, "tickSize": 4, "labelPadding": 1, "title": null, "labelOverlap": false, "labelBound": false}}
     }},
    {"data": {"name": "tags"}, "transform": [{"filter": "datum.panel == 'rsi'"}],
     "mark": {"type": "rule", "color": "#ff3b3b", "strokeDash": [6, 4], "strokeWidth": 1.2},
     "encoding": {"y": {"field": "v", "type": "quantitative"}}},
    {"data": {"name": "tags"}, "transform": [{"filter": "datum.panel == 'rsi'"}],
     "mark": {"type": "point", "shape": "M-1,-0.24H1V0.24H-1Z", "size": 1681, "filled": true, "fill": "#ffffff", "stroke": "#ff3030", "strokeWidth": 1, "opacity": 1, "xOffset": 25},
     "encoding": {"x": {"datum": "2016-07-22", "type": "ordinal", "axis": null}, "y": {"field": "v", "type": "quantitative"}}},
    {"data": {"name": "tags"}, "transform": [{"filter": "datum.panel == 'rsi'"}],
     "mark": {"type": "text", "color": "#3030e0", "fontSize": 10, "font": "Liberation Sans", "align": "center", "baseline": "middle", "xOffset": 25},
     "encoding": {"x": {"datum": "2016-07-22", "type": "ordinal", "axis": null}, "y": {"field": "v", "type": "quantitative"}, "text": {"field": "label"}}}
  ],
  "resolve": {"axis": {"x": "independent"}}
}
]
}
